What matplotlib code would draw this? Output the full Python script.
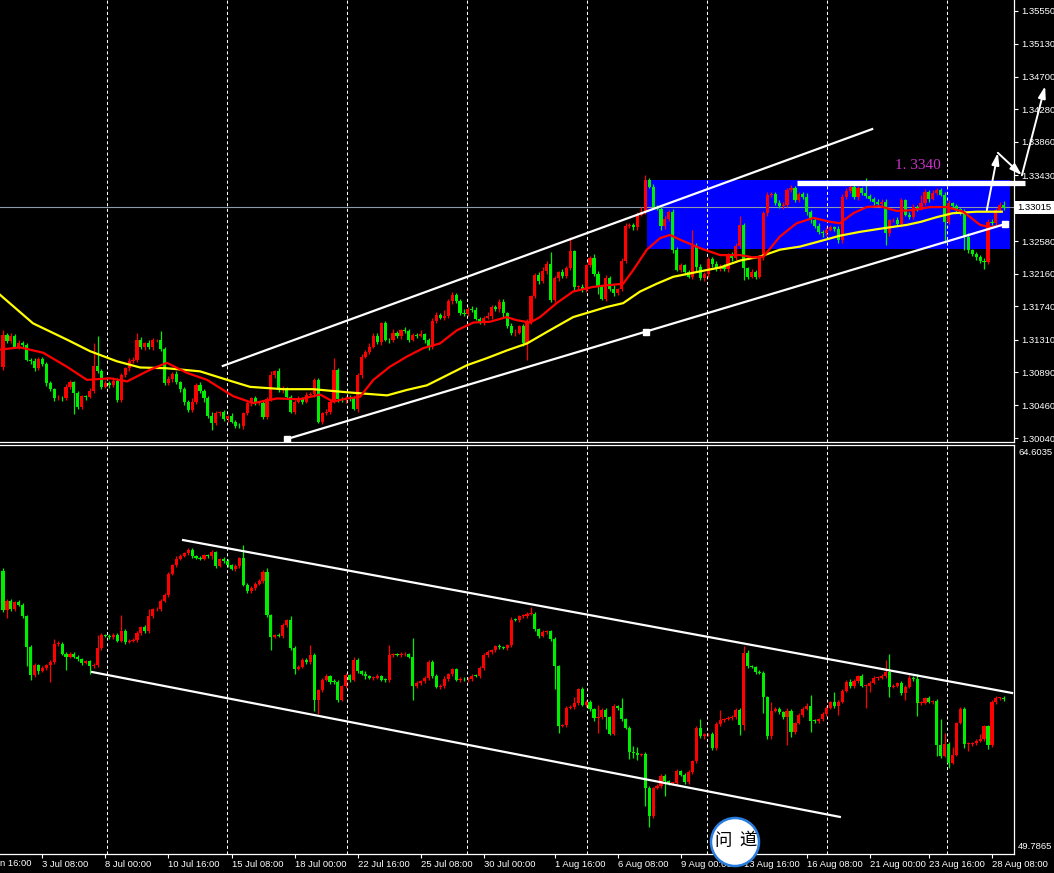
"""
GBP/USD H4 snapshot with a second oscillator-style candle panel,
redrawn in the MT4 dark look (black background, red = up, green = down).
"""

import numpy as np
import matplotlib
matplotlib.use("Agg")
import matplotlib.pyplot as plt
from matplotlib.patches import Rectangle, Ellipse

plt.rcParams["font.family"] = ["Liberation Sans", "DejaVu Sans"]

# -------------------------------------------------------------------
# Data - main panel (values in pips above PRICE_BASE)
# -------------------------------------------------------------------
PIP = 0.0001
PRICE_BASE = 1.3000
TOP_FIRST_OPEN = 96

TOP_CLOSE = [
    137, 129, 136, 122, 127, 124, 105, 103, 94, 106,
    100, 75, 67, 55, 56, 55, 70, 76, 62, 44,
    58, 57, 65, 97, 90, 70, 75, 73, 78, 53,
    85, 94, 103, 105, 131, 121, 126, 121, 130, 130,
    119, 75, 80, 87, 76, 67, 51, 40, 50, 73,
    65, 55, 33, 23, 36, 37, 28, 32, 25, 20,
    19, 36, 49, 55, 49, 49, 31, 54, 85, 90,
    66, 68, 57, 38, 51, 55, 51, 60, 61, 79,
    25, 36, 38, 51, 92, 54,
    53, 56, 55, 42, 85, 109, 115, 122, 136, 128,
    152, 131, 130, 139, 136, 143, 142, 131, 137, 136,
    138, 130, 121, 155, 163, 159, 161, 181, 189, 181,
    165, 164, 171, 169, 158, 154, 159, 161, 173, 170,
    180, 165, 149, 139, 140, 148, 126, 154, 187, 214,
    206, 219, 229, 182, 210, 218, 213, 223, 245, 199,
    199, 195, 227, 236, 216, 200, 184, 210, 196, 191,
    196, 233, 277, 279, 276, 292, 296, 337, 328, 302,
    300, 277, 286, 296, 246, 221,
    227, 218, 212, 252, 225, 210, 216, 235, 228, 222,
    226, 222, 240, 236, 252, 279, 223, 212, 218, 212,
    238, 294, 317, 319, 307, 303, 305, 324, 326, 311,
    319, 315, 296, 285, 277, 270, 268, 273, 276, 274,
    259, 315, 323, 328, 315, 326, 320, 316, 313, 309,
    306, 309, 268, 285, 285, 280, 311, 292, 289, 302,
    300, 307, 322, 313, 320, 324, 318, 283, 307, 303,
    299, 296, 264, 246, 241, 238, 233, 231, 283, 281,
    298, 305, 301,
]

TOP_UPPER_WICK = [
    6, 3, 4, 2, 3, 2, 3, 2, 4, 2, 3, 2, 3, 2, 3,
    2, 4, 3, 2, 3, 2, 2, 3, 29, 38, 3, 4, 2, 5, 3,
    3, 2, 4, 3, 8, 3, 2, 4, 3, 2, 12, 3, 4, 2, 3,
    2, 3, 2, 5, 2, 3, 2, 3, 4, 3, 2, 3, 2, 4, 2,
    3, 2, 4, 2, 3, 2, 3, 3, 6, 2, 4, 3, 2, 3, 2,
    3, 2, 4, 3, 2, 3, 2, 4, 3, 15, 2, 3, 2, 4, 3,
    3, 4, 2, 5, 3, 4, 2, 3, 2, 6, 3, 2, 4, 3, 2,
    3, 5, 2, 3, 4, 3, 2, 8, 3, 4, 2, 3, 5, 2, 3,
    4, 2, 3, 6, 3, 2, 4, 3, 2, 3, 5, 2, 3, 4, 2,
    3, 4, 6, 3, 15, 3, 2, 4, 3, 18, 2, 3, 4, 2, 3,
    5, 3, 2, 4, 3, 6, 2, 3, 4, 3, 2, 3, 6, 6, 3,
    4, 2, 3, 5, 2, 3, 4, 3, 2, 3, 20, 3, 4, 2, 3,
    2, 4, 3, 2, 3, 4, 3, 11, 3, 2, 4, 3, 2, 3, 5,
    3, 2, 4, 3, 2, 4, 3, 2, 3, 5, 2, 3, 4, 2, 3,
    3, 2, 3, 4, 3, 4, 3, 3, 2, 20, 3, 2, 3, 4, 3,
    2, 3, 4, 3, 2, 3, 4, 3, 11, 3, 2, 4, 3, 2, 3,
    4, 2, 3, 2, 3, 4, 2, 3, 2, 3, 4, 3, 3, 4, 5,
]

TOP_LOWER_WICK = [
    4, 2, 3, 2, 3, 3, 2, 4, 3, 2, 3, 4, 2, 3, 2,
    3, 2, 3, 27, 3, 2, 4, 2, 3, 2, 3, 2, 4, 3, 2,
    3, 2, 3, 2, 3, 2, 4, 2, 3, 2, 3, 2, 3, 4, 2,
    3, 4, 2, 3, 2, 3, 4, 3, 9, 2, 3, 2, 3, 2, 3,
    2, 3, 2, 4, 3, 3, 2, 3, 2, 3, 2, 4, 3, 2, 3,
    2, 3, 2, 3, 4, 2, 3, 2, 3, 2, 3, 2, 4, 3, 2,
    4, 3, 2, 3, 2, 3, 4, 2, 3, 2, 3, 4, 2, 3, 2,
    3, 2, 4, 3, 2, 3, 2, 3, 2, 4, 3, 2, 3, 2, 3,
    2, 3, 4, 2, 3, 2, 3, 6, 3, 2, 3, 2, 3, 21, 3,
    2, 3, 2, 4, 3, 2, 3, 2, 3, 2, 4, 3, 2, 3, 2,
    3, 10, 2, 3, 2, 4, 3, 2, 3, 2, 3, 4, 2, 3, 2,
    3, 2, 4, 3, 2, 3, 2, 3, 4, 2, 3, 5, 2, 3, 4,
    3, 2, 3, 2, 4, 3, 2, 3, 15, 3, 2, 3, 2, 4, 3,
    2, 3, 2, 4, 3, 2, 3, 2, 3, 4, 3, 2, 3, 4, 3,
    2, 3, 4, 3, 2, 3, 2, 4, 3, 2, 3, 4, 2, 3, 15,
    3, 2, 3, 4, 2, 3, 2, 3, 2, 3, 4, 2, 3, 2, 28,
    3, 2, 3, 4, 17, 3, 2, 4, 3, 9, 3, 2, 3, 2, 3,
]

# moving averages (bar position, pips)
RED_MA_BARS = [
    -0.8, 4.3, 10.2, 16.2, 21.3, 27.2, 31.5, 37.3, 41.6, 46.7,
    51.8, 58.4, 63.5, 69.5, 75.4, 80.5, 83.8, 87.3, 90.6, 94.0,
    98.2, 102.5, 106.7, 110.9, 115.2, 119.4, 123.6, 127.8, 130.4, 133.8,
    136.3, 140.5, 144.7, 149.8, 153.2, 157.4, 160.0, 163.4, 166.8, 169.3,
    171.8, 176.9, 182.0, 187.1, 190.4, 193.0, 197.2, 201.4, 205.7, 209.9,
    212.4, 215.8, 219.2, 222.6, 226.8, 231.0, 235.3, 239.5, 243.7, 248.0,
    250.5, 253.9,
]
RED_MA = [
    118, 121, 114, 96, 79, 81, 77, 92, 101, 88,
    79, 58, 49, 55, 54, 60, 51, 55, 57, 79,
    96, 109, 120, 126, 143, 153, 154, 160, 156, 153,
    160, 178, 193, 199, 201, 203, 221, 247, 262, 266,
    260, 249, 240, 240, 237, 238, 264, 281, 288, 283,
    281, 294, 302, 303, 297, 298, 302, 302, 296, 279,
    276, 279,
]
YELLOW_MA_BARS = [
    -0.8, 7.6, 16.2, 22.1, 28.9, 34.8, 41.6, 50.0, 56.9, 62.7,
    71.1, 78.7, 87.3, 97.5, 102.5, 107.6, 112.7, 117.8, 122.8, 127.9,
    133.0, 138.1, 144.7, 153.2, 157.4, 161.7, 165.9, 170.1, 176.9, 182.0,
    187.1, 192.1, 197.2, 202.3, 207.4, 212.4, 217.5, 222.6, 229.4, 233.0,
    237.0, 241.0, 247.0, 253.5,
]
YELLOW_MA = [
    189, 152, 131, 116, 103, 95, 94, 90, 79, 70,
    67, 67, 63, 59, 66, 72, 85, 98, 107, 117,
    126, 141, 160, 173, 178, 193, 203, 212, 219, 224,
    233, 238, 247, 251, 258, 265, 270, 274, 279, 283,
    289, 294, 296, 296,
]

BID_PRICE = 1.33015
RESIST_LEVEL = 1.33336
RESIST_TEXT = "1. 3340"
ZONE = (163.4, 255.6, 1.3248, 1.3337)          # bar from, bar to, low, high
UP_CHANNEL = ((55.8, 1.30970), (220.6, 1.34026))
LOW_CHANNEL = ((72.1, 1.30027), (163.2, 1.31413), (254.3, 1.32800))
ARROWS = [((249.7, 1.3298), (252.5, 1.3372)),
          ((252.5, 1.3372), (258.6, 1.3343)),
          ((258.6, 1.3343), (264.5, 1.3458))]
PRICE_TICKS = [1.35550, 1.35130, 1.34700, 1.34280, 1.33860, 1.33430,
               1.32580, 1.32160, 1.31740, 1.31310, 1.30890, 1.30460, 1.30040]

# -------------------------------------------------------------------
# Data - lower panel
# -------------------------------------------------------------------
BOT_FIRST_OPEN = 60.05
BOT_CLOSE = [
    58.61, 58.97, 58.65, 58.93, 58.82, 58.40, 57.28, 56.27, 56.62, 56.42,
    56.53, 56.62, 56.74, 57.40, 57.40, 57.04, 56.94, 57.04, 56.92, 56.84,
    56.71, 56.77, 56.60, 56.62, 57.25, 57.72, 57.69, 57.63, 57.72, 57.51,
    57.86, 57.48, 57.51, 57.55, 57.78, 58.01, 57.86, 58.40, 58.65, 58.65,
    58.97, 59.18, 59.93, 60.25, 60.49, 60.59, 60.69, 60.81, 60.57, 60.51,
    60.49, 60.61, 60.57, 60.72, 60.22, 60.47, 60.41, 60.24, 60.11, 60.22,
    60.50, 59.54, 59.30, 59.44, 59.58, 59.66, 60.02, 58.43, 57.66, 57.72,
    57.70, 58.08, 58.25, 57.25, 56.50, 56.57, 56.82, 56.74, 57.01, 55.35,
    55.73, 56.09, 56.23, 56.03, 56.02, 55.38,
    55.87, 56.26, 56.09, 56.83, 56.41, 56.32, 56.22, 56.16, 56.18, 56.23,
    56.09, 56.08, 56.98, 57.02, 57.00, 57.02, 57.03, 56.94, 55.87, 55.99,
    56.04, 56.17, 56.76, 56.23, 55.84, 55.87, 56.14, 56.29, 56.48, 56.10,
    56.13, 56.11, 56.13, 56.25, 56.24, 56.51, 57.01, 57.10, 57.17, 57.31,
    57.27, 57.25, 57.35, 58.28, 58.27, 58.40, 58.40, 58.48, 58.49, 57.92,
    57.68, 57.83, 57.85, 57.56, 56.58, 54.44, 54.46, 55.08, 55.13, 55.25,
    55.76, 55.19, 55.29, 55.04, 54.70, 54.75, 55.02, 54.74, 54.15, 55.14,
    55.07, 54.68, 54.36, 53.49, 53.45, 53.38, 53.40, 52.18, 51.15, 52.18,
    52.24, 52.61, 52.43, 52.35, 52.35, 52.78,
    52.66, 52.39, 52.76, 53.14, 54.35, 54.05, 54.12, 54.12, 53.61, 54.50,
    54.65, 54.68, 54.72, 54.75, 55.02, 54.47, 57.06, 56.58, 56.56, 56.38,
    56.36, 55.47, 54.05, 54.98, 55.04, 54.92, 54.74, 54.98, 54.21, 54.53,
    54.84, 55.05, 55.14, 54.62, 54.60, 54.66, 54.87, 55.08, 55.28, 55.14,
    55.31, 55.69, 56.03, 55.87, 56.06, 56.23, 55.87, 55.89, 55.99, 56.17,
    56.18, 56.23, 56.38, 55.85, 55.87, 55.97, 55.63, 55.85, 56.18, 56.12,
    55.25, 55.27, 55.43, 55.31, 55.32, 53.73, 53.34, 53.77, 53.10, 53.38,
    54.53, 55.04, 53.77, 53.78, 53.79, 53.88, 53.94, 54.41, 53.73, 55.31,
    55.43, 55.44, 55.40,
]

# wicks in hundredths
BOT_UPPER_WICK = [
    8, 5, 6, 4, 5, 6, 5, 6, 8, 5, 6, 5, 8, 18, 10,
    6, 5, 6, 5, 7, 5, 6, 5, 8, 47, 6, 5, 8, 6, 6,
    57, 8, 5, 6, 8, 5, 7, 27, 6, 8, 5, 7, 6, 5, 8,
    6, 5, 8, 6, 5, 7, 6, 5, 8, 6, 5, 7, 6, 5, 8,
    6, 47, 5, 7, 6, 8, 5, 14, 6, 5, 7, 6, 5, 15, 6,
    5, 8, 6, 33, 6, 5, 7, 6, 5, 8, 6, 5, 7, 6, 8,
    5, 6, 8, 5, 7, 6, 5, 8, 36, 6, 5, 7, 6, 5, 68,
    6, 5, 8, 6, 5, 7, 6, 8, 5, 6, 5, 7, 6, 8, 5,
    6, 7, 5, 8, 6, 5, 7, 6, 5, 8, 6, 5, 7, 6, 24,
    6, 5, 8, 6, 5, 7, 6, 5, 8, 6, 24, 5, 7, 6, 8,
    5, 45, 6, 7, 5, 8, 6, 36, 5, 7, 20, 20, 5, 7, 6,
    5, 8, 6, 7, 5, 6, 8, 5, 7, 6, 5, 8, 33, 6, 5,
    7, 6, 36, 5, 8, 6, 5, 7, 27, 12, 6, 5, 8, 6, 5,
    33, 6, 7, 5, 8, 6, 5, 7, 6, 12, 42, 5, 7, 6, 8,
    5, 39, 6, 7, 5, 8, 6, 5, 7, 6, 5, 8, 6, 7, 42,
    65, 6, 5, 7, 6, 8, 5, 20, 6, 5, 8, 6, 7, 95, 40,
    6, 27, 5, 8, 8, 6, 5, 7, 20, 6, 5, 6, 7, 5, 6,
]
BOT_LOWER_WICK = [
    6, 26, 5, 7, 6, 5, 69, 18, 6, 10, 5, 7, 60, 6, 8,
    5, 47, 6, 5, 7, 6, 5, 30, 6, 5, 8, 6, 5, 7, 6,
    5, 8, 6, 5, 7, 6, 5, 8, 6, 5, 7, 6, 8, 5, 6,
    7, 5, 8, 6, 5, 7, 6, 5, 8, 6, 5, 7, 6, 5, 8,
    6, 5, 7, 6, 8, 5, 6, 7, 50, 6, 5, 8, 6, 7, 18,
    6, 5, 7, 6, 40, 50, 6, 5, 8, 6, 7, 5, 8, 6, 5,
    7, 6, 8, 5, 7, 6, 5, 8, 6, 7, 5, 8, 6, 5, 52,
    6, 7, 5, 8, 6, 5, 7, 6, 8, 5, 6, 7, 5, 8, 6,
    5, 7, 6, 8, 5, 6, 7, 5, 8, 6, 5, 7, 6, 8, 5,
    6, 7, 5, 8, 6, 83, 28, 6, 7, 5, 8, 6, 5, 7, 6,
    8, 53, 6, 42, 5, 7, 6, 8, 5, 27, 20, 20, 6, 65, 38,
    7, 5, 8, 56, 6, 5, 7, 6, 8, 5, 7, 6, 5, 8, 6,
    5, 7, 6, 8, 5, 7, 6, 38, 18, 6, 5, 7, 6, 57, 8,
    10, 6, 5, 7, 100, 18, 6, 5, 8, 6, 42, 5, 7, 6, 8,
    5, 7, 33, 6, 5, 8, 6, 7, 5, 80, 25, 6, 8, 5, 7,
    36, 6, 5, 8, 26, 6, 5, 45, 7, 6, 5, 8, 39, 6, 5,
    18, 7, 6, 5, 15, 26, 8, 6, 5, 7, 15, 6, 8, 5, 6,
]

BOT_RANGE = (49.7865, 64.6035)
BOT_UP_CHANNEL = ((45.7, 61.16), (256.1, 55.62))
BOT_LOW_CHANNEL = ((22.6, 56.38), (212.4, 51.13))

# -------------------------------------------------------------------
# Time axis (bar index of each label)
# -------------------------------------------------------------------
TIME_BARS = [10, 26, 42, 58, 74, 90, 106, 122, 140, 156, 172, 188, 204, 220, 235, 251]
TIME_LABELS = ["3 Jul 08:00", "8 Jul 00:00", "10 Jul 16:00", "15 Jul 08:00",
               "18 Jul 00:00", "22 Jul 16:00", "25 Jul 08:00", "30 Jul 00:00",
               "1 Aug 16:00", "6 Aug 08:00", "9 Aug 00:00", "13 Aug 16:00",
               "16 Aug 08:00", "21 Aug 00:00", "23 Aug 16:00", "28 Aug 08:00"]
GRID_BARS = [26.5, 56.9, 87.4, 117.8, 148.3, 178.8, 209.2, 239.7]

# -------------------------------------------------------------------
# Style
# -------------------------------------------------------------------
BULL = "#ff0000"
BEAR = "#00ee00"
FG = "white"
W, H = 1054, 873
BAR_PX, FIRST_BAR_PX = 3.94, 3.0


def draw_candles(ax, first_open, closes, up_wick, low_wick, min_body):
    closes = np.asarray(closes, dtype=float)
    opens = np.concatenate([[first_open], closes[:-1]])
    highs = np.maximum(opens, closes) + np.asarray(up_wick)
    lows = np.minimum(opens, closes) - np.asarray(low_wick)
    x = np.arange(len(closes))
    cols = np.where(closes >= opens, BULL, BEAR)
    ax.vlines(x, lows, highs, colors=cols, lw=0.9, zorder=3)
    body = np.maximum(np.abs(closes - opens), min_body)
    ax.bar(x, body, bottom=np.minimum(opens, closes), width=0.8,
           color=cols, lw=0, zorder=4)


def px_axes(fig, left, top, right, bottom):
    return fig.add_axes([left / W, 1 - bottom / H, (right - left) / W, (bottom - top) / H])


def style_axes(ax, spines):
    ax.set_facecolor("black")
    for name, sp in ax.spines.items():
        sp.set_visible(name in spines)
        sp.set_color(FG)
        sp.set_linewidth(0.9)
    ax.set_xlim(-FIRST_BAR_PX / BAR_PX, (1014 - FIRST_BAR_PX) / BAR_PX)
    for g in GRID_BARS:
        ax.axvline(g, color=FG, lw=0.75, dashes=(3, 2.4), zorder=2)


def main() -> None:
    fig = plt.figure(figsize=(W / 100, H / 100), dpi=100, facecolor="black")

    # ---------------- main price panel ----------------
    ax1 = px_axes(fig, 0, 0, 1014, 442)
    style_axes(ax1, ("right", "bottom"))
    ax1.set_ylim(1.299884, 1.356916)

    ax1.add_patch(Rectangle((ZONE[0], ZONE[2]), ZONE[1] - ZONE[0], ZONE[3] - ZONE[2],
                            facecolor="#0000ff", edgecolor="none", zorder=1))
    ax1.axhline(BID_PRICE, color="#8c9aaa", lw=0.8, zorder=2.5)

    to_price = lambda p: PRICE_BASE + np.asarray(p, dtype=float) * PIP
    draw_candles(ax1, to_price(TOP_FIRST_OPEN), to_price(TOP_CLOSE),
                 np.asarray(TOP_UPPER_WICK) * PIP, np.asarray(TOP_LOWER_WICK) * PIP, 0.00009)

    ax1.plot(YELLOW_MA_BARS, to_price(YELLOW_MA), color="#ffff00", lw=1.6, zorder=5)
    ax1.plot(RED_MA_BARS, to_price(RED_MA), color="#ff0000", lw=1.6, zorder=5)

    (ux0, uy0), (ux1, uy1) = UP_CHANNEL
    ax1.plot([ux0, ux1], [uy0, uy1], color=FG, lw=1.6, zorder=6)
    lx, ly = zip(*LOW_CHANNEL)
    ax1.plot([lx[0], lx[-1]], [ly[0], ly[-1]], color=FG, lw=1.6, zorder=6)
    ax1.plot(lx, ly, "s", color=FG, ms=4.2, zorder=6)

    ax1.plot([201.5, 259.4], [RESIST_LEVEL, RESIST_LEVEL], color=FG, lw=3.8,
             solid_capstyle="butt", zorder=6, clip_on=False)
    ax1.text(232.2, 1.3356, RESIST_TEXT, color="#cc33cc", fontsize=11,
             family=["Liberation Serif", "DejaVu Serif"], ha="center", va="center", zorder=7)

    for start, end in ARROWS:
        ax1.annotate("", xy=end, xytext=start, annotation_clip=False, zorder=8,
                     arrowprops=dict(arrowstyle="-|>,head_length=0.7,head_width=0.22",
                                     color=FG, lw=1.4, shrinkA=0, shrinkB=0))

    ax1.yaxis.tick_right()
    ax1.set_yticks(PRICE_TICKS)
    ax1.set_yticklabels([f"{p:.5f}" for p in PRICE_TICKS])
    ax1.tick_params(axis="y", colors=FG, length=3, width=0.8, pad=2, labelsize=6.8)
    ax1.set_xticks([])
    ax1.text(1.0035, BID_PRICE, f"{BID_PRICE:.5f}", transform=ax1.get_yaxis_transform(),
             ha="left", va="center", fontsize=6.8, color="black", zorder=9,
             bbox=dict(boxstyle="square,pad=0.25", facecolor="white", edgecolor="none"))

    # ---------------- lower panel ----------------
    ax2 = px_axes(fig, 0, 445, 1014, 854)
    style_axes(ax2, ("right", "top", "bottom"))
    ax2.set_ylim(*BOT_RANGE)

    draw_candles(ax2, BOT_FIRST_OPEN, BOT_CLOSE,
                 np.asarray(BOT_UPPER_WICK) * 0.01, np.asarray(BOT_LOWER_WICK) * 0.01, 0.03)

    for (x0, y0), (x1, y1) in (BOT_UP_CHANNEL, BOT_LOW_CHANNEL):
        ax2.plot([x0, x1], [y0, y1], color=FG, lw=1.6, zorder=6)

    ax2.set_yticks([])
    ax2.text(1.004, 0.992, f"{BOT_RANGE[1]:.4f}", transform=ax2.transAxes,
             ha="left", va="top", fontsize=6.8, color=FG)
    ax2.text(1.004, 0.008, f"{BOT_RANGE[0]:.4f}", transform=ax2.transAxes,
             ha="left", va="bottom", fontsize=6.8, color=FG)

    ax2.set_xticks(TIME_BARS)
    ax2.set_xticklabels(TIME_LABELS)
    for lab in ax2.get_xticklabels():
        lab.set_horizontalalignment("left")
    ax2.tick_params(axis="x", colors=FG, length=3, width=0.8, pad=1.5, labelsize=6.8)
    fig.text(0.0, 1 - 863 / H, "n 16:00", color=FG, fontsize=6.8, ha="left", va="center")

    # ---------------- watermark ----------------
    fig.add_artist(Ellipse((735 / W, 1 - 842 / H), 48 / W, 48 / H, transform=fig.transFigure,
                           facecolor="white", edgecolor="#2a7de0", lw=1.8, zorder=10))
    for ch, cx, cy in (("问", 723, 841), ("道", 748, 840)):
        fig.text(cx / W, 1 - cy / H, ch, color="black", fontsize=12.5, ha="center", va="center",
                 family=["Noto Sans CJK SC", "DejaVu Sans"], zorder=11)

    fig.savefig("out.png", dpi=100, facecolor="black")
    plt.close(fig)


if __name__ == "__main__":
    main()
